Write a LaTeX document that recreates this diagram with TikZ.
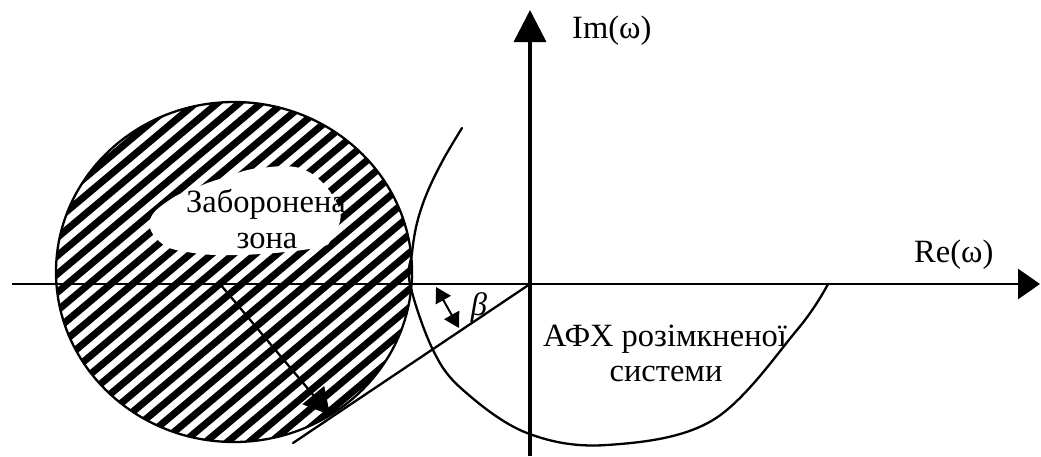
\documentclass[tikz,border=0pt]{standalone}
\usepackage{fontspec}
\setmainfont{Liberation Serif}
\usetikzlibrary{arrows.meta}
\begin{document}
\begin{tikzpicture}[x=1pt,y=-1pt, line join=round, line cap=round,
  lbl/.style={font=\fontsize{32.5}{38}\selectfont, inner sep=0pt},
  curve/.style={line width=2.3pt},
  axis/.style={line width=2.8pt, line cap=butt},
  bigtip/.style={-{Triangle[length=#1,width=30pt]}}]
\useasboundingbox (0,0) rectangle (1041,456);
% hatched forbidden zone
\begin{scope}
  \clip (234,272) ellipse [x radius=178, y radius=170];
  \begin{scope}[shift={(234,272)}, rotate=40]
    \foreach \i in {-20,...,20}
      \draw[line width=7pt, line cap=butt] (-300,\i*14) -- (300,\i*14);
  \end{scope}
\end{scope}
% white cloud behind the label
\fill[white] plot[smooth cycle, tension=0.7] coordinates
  {(223,178) (260,168) (307,171) (339,208) (332,237) (315,248) (240,255)
   (187,252) (160,242) (150,220) (171,199) (200,186)};
\draw[curve] (234,272) ellipse [x radius=178, y radius=170];
% axes
\coordinate (O) at (530,284);
\coordinate (xs) at (12,284);
\coordinate (xe) at (1040,284);
\coordinate (ys) at (530,456);
\coordinate (ye) at (530,10);
\draw[axis, bigtip=22pt] (xs) -- (xe);
\draw[axis, line width=3.5pt, -{Triangle[length=32pt,width=32pt]}] (ys) -- (ye);
% frequency response curve
\draw[curve] plot[smooth, tension=0.6] coordinates
  {(462,128) (443,160) (427,193) (417,223) (412,253) (410,284) (433,350)
   (463,390) (527,433) (607,445) (713,420) (797,330) (828,284)};
% tangent line
\coordinate (tend) at (293,443);
\draw[curve] (O) -- (tend);
% radius arrow
\coordinate (rs) at (220,284);
\coordinate (re) at (330,415);
\draw[curve, -{Triangle[length=26pt,width=28pt]}] (rs) -- (re);
% beta arrow
\coordinate (bs) at (436,287);
\coordinate (be) at (459,328);
\draw[line width=2pt, {Triangle[length=15pt,width=17pt]}-{Triangle[length=15pt,width=17pt]}] (bs) -- (be);
% labels
\node[lbl, anchor=base west] (im) at (572,38) {Im(ω)};
\node[lbl, anchor=base west] (re) at (914,262) {Re(ω)};
\node[lbl] (beta) at (479,308) {\itshape β};
\node[lbl, anchor=base] (z1) at (266,212) {Заборонена};
\node[lbl, anchor=base] (z2) at (267,248) {зона};
\node[lbl, anchor=base] (a1) at (665,346) {АФХ розімкненої};
\node[lbl, anchor=base] (a2) at (666,381) {системи};
\end{tikzpicture}
\end{document}
